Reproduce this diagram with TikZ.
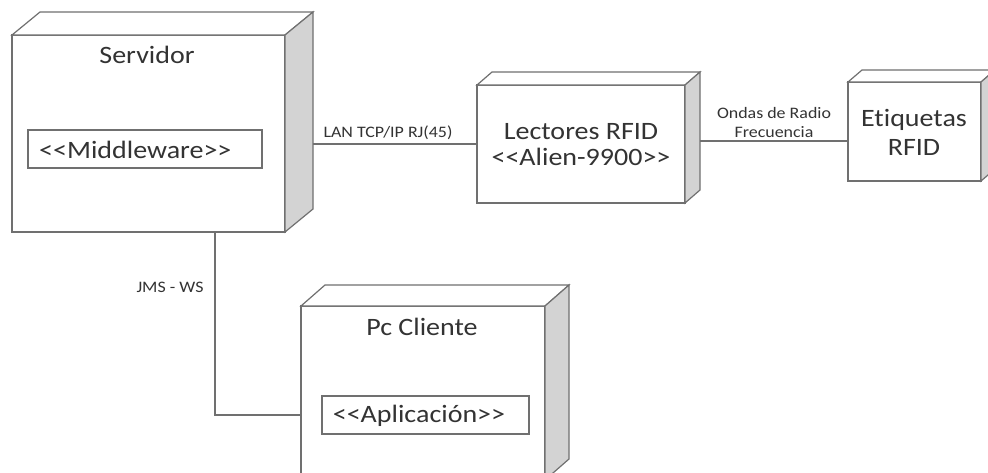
\documentclass[tikz,border=0pt]{standalone}
\usepackage{fontspec}
\setmainfont{Carlito}[FakeStretch=1.12, Ligatures={NoCommon}]
\usetikzlibrary{calc}

\definecolor{edge}{HTML}{707070}
\definecolor{sideface}{HTML}{D3D3D3}
\definecolor{ink}{HTML}{333333}

\tikzset{
  front/.style={draw=edge, line width=1.2pt, fill=white, outer sep=0pt, inner sep=0pt},
  face/.style={draw=edge, line width=1.2pt, line join=miter},
  inbox/.style={draw=edge, line width=1.2pt, fill=white, outer sep=0pt, inner sep=0pt},
  big/.style={text=ink, font=\fontsize{25}{27.5}\selectfont, inner sep=0pt, align=center},
  small/.style={text=ink, font=\fontsize{16}{19}\selectfont, inner sep=0pt, align=center},
  link/.style={draw=edge, line width=1.2pt}
}

% top and side faces of a UML deployment node, drawn from the front face's anchors
\newcommand\nodefaces[3]{%
  \draw[face, fill=white] (#1.north west) -- ++(#2,-#3)
    -- ($(#1.north east)+(#2,-#3)$) -- (#1.north east) -- cycle;
  \draw[face, fill=sideface] (#1.north east) -- ($(#1.north east)+(#2,-#3)$)
    -- ($(#1.south east)+(#2,-#3)$) -- (#1.south east) -- cycle;
  \coordinate (#1-back) at ($(#1.north east)+(#2,-#3)$);
}

\begin{document}
\begin{tikzpicture}[x=1pt, y=-1pt]
  \useasboundingbox[fill=white] (0,0) rectangle (988,472);

  % Servidor
  \node[front, minimum width=273pt, minimum height=197pt] (serv) at (148.5,133.5) {};
  \nodefaces{serv}{28}{23}
  \node[big] (servtitle) at (147,55) {Servidor};
  \node[inbox, minimum width=234pt, minimum height=38pt] (mw) at (145,149) {};
  \node[big, anchor=west] (mwtext) at (39,150) {<{}<Middleware>{}>};

  % Lectores RFID
  \node[front, minimum width=208pt, minimum height=118pt] (lect) at (581,144) {};
  \nodefaces{lect}{15}{13}
  \node[big, font=\fontsize{25}{26}\selectfont] (lecttext) at (581,145) {Lectores RFID\\<{}<Alien-9900>{}>};

  % Etiquetas RFID
  \node[front, minimum width=133pt, minimum height=99pt] (etiq) at (914.5,131.5) {};
  \nodefaces{etiq}{14}{12}
  \node[big, font=\fontsize{25}{29}\selectfont] (etiqtext) at (914,132.5) {Etiquetas\\RFID};

  % Pc Cliente
  \node[front, minimum width=244pt, minimum height=174pt] (pc) at (423,393) {};
  \nodefaces{pc}{24}{21}
  \node[big] (pctitle) at (422,327) {Pc Cliente};
  \node[inbox, minimum width=207pt, minimum height=38pt] (app) at (425.5,415) {};
  \node[big] (apptext) at (419,416) {<{}<Aplicación>{}>};

  % connectors
  \draw[link] (serv-back |- lect.west) -- (lect.west);
  \node[small] (lan) at (388,133) {LAN TCP/IP RJ(45)};

  \coordinate (etiqin) at ($(etiq.west)+(0,9.5)$);
  \draw[link] (lect-back |- etiqin) -- (etiqin);
  \node[small] (ondas) at (774,122) {Ondas de Radio\\Frecuencia};

  \coordinate (servout) at ($(serv.south west)+(203,0)$);
  \draw[link] (servout) |- (pc.west |- app.west) -- (pc.west |- app.west);
  \node[small] (jms) at (170,287) {JMS - WS};
\end{tikzpicture}
\end{document}
